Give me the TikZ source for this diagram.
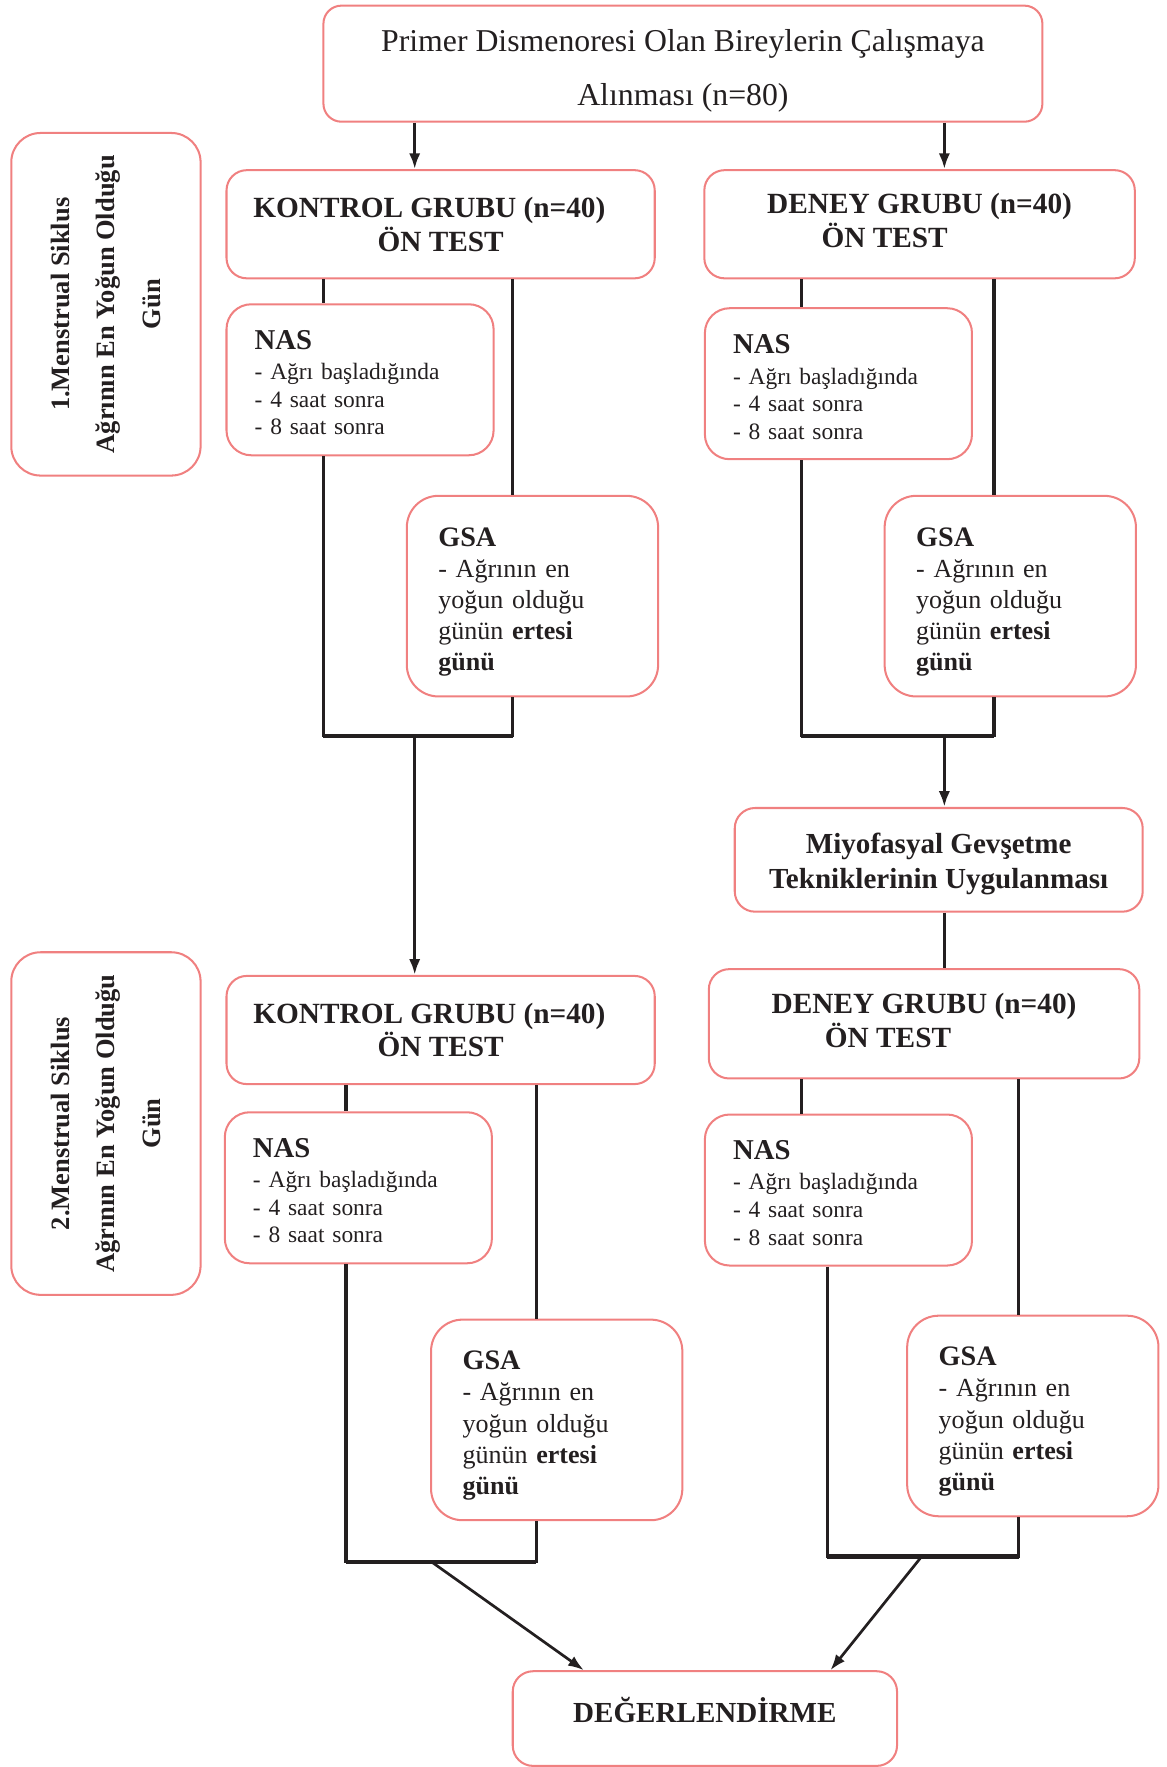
\documentclass[tikz,border=0pt]{standalone}
\usepackage{fontspec}
\setmainfont{Liberation Serif}
\usetikzlibrary{arrows.meta}
\definecolor{boxpink}{RGB}{240,128,128}
\definecolor{ink}{RGB}{35,31,32}
\newcommand{\padtop}[2]{\raisebox{0pt}[\dimexpr\height+#1\relax]{#2}}
\newcommand{\padbot}[2]{\raisebox{0pt}[\height][\dimexpr\depth+#1\relax]{#2}}

\begin{document}
\begin{tikzpicture}[
		x=0.5pt, y=-0.5pt,
		>={Latex[length=7pt,width=5pt]},
		box/.style = {draw=boxpink, line width=0.9pt, rounded corners=9pt, text=ink, inner sep=0pt, align=center},
		title/.style = {box, rounded corners=8pt, font=\fontsize{14.1}{24}\selectfont},
		head/.style = {box, font=\fontsize{13}{15}\selectfont\bfseries},
		side/.style = {box, rounded corners=13pt, font=\fontsize{11.75}{20}\selectfont\bfseries},
		nasbox/.style = {box, rounded corners=11pt, align=left, inner xsep=12.5pt, text width=93.5pt, minimum height=67pt, font=\fontsize{10.4}{12.25}\selectfont},
		gsabox/.style = {box, rounded corners=14pt, align=left, inner xsep=14pt, text width=83.5pt, minimum height=89pt, font=\fontsize{11.55}{13.8}\selectfont},
		link/.style = {draw=ink, line width=1.4pt, line join=miter},
		bar/.style = {draw=ink, line width=2pt},
	]
	\useasboundingbox (0,0) rectangle (1035,1568);

	\node[title, minimum width=319pt, minimum height=51.5pt] (top) at (606,56.5)
		{\padtop{6pt}{Primer Dismenoresi Olan Bireylerin Çalışmaya}\\Alınması (n=80)};

	% 1. siklus
	\node[side, rotate=90, minimum width=152pt, minimum height=84pt] (cyc1) at (94,270)
		{1.Menstrual Siklus\\Ağrının En Yoğun Olduğu\\Gün};
	\node[head, minimum width=190pt, minimum height=48pt] (kon1) at (391,199)
		{KONTROL GRUBU (n=40)\hspace*{10pt}\\ÖN TEST};
	\node[head, minimum width=191pt, minimum height=48pt] (den1) at (816,199)
		{DENEY GRUBU (n=40)\\\padbot{3.5pt}{ÖN TEST\hspace*{31pt}}};
	\node[nasbox] (nas1) at (319.5,337)
		{\padtop{2.5pt}{\fontsize{12.75}{12.25}\selectfont\bfseries NAS}\\[1.3pt]- Ağrı başladığında\\- 4 saat sonra\\- 8 saat sonra};
	\node[nasbox] (nas2) at (744,340.5)
		{\padtop{3pt}{\fontsize{12.75}{12.25}\selectfont\bfseries NAS}\\[1.3pt]- Ağrı başladığında\\- 4 saat sonra\\- 8 saat sonra};
	\node[gsabox] (gsa1) at (472.5,529)
		{\padtop{5pt}{\fontsize{12.5}{13.8}\selectfont\bfseries GSA}\\- Ağrının en\\yoğun olduğu\\günün \textbf{ertesi}\\\textbf{günü}};
	\node[gsabox] (gsa2) at (896.5,529)
		{\padtop{5pt}{\fontsize{12.5}{13.8}\selectfont\bfseries GSA}\\- Ağrının en\\yoğun olduğu\\günün \textbf{ertesi}\\\textbf{günü}};
	\node[head, font=\fontsize{12.9}{15.5}\selectfont\bfseries, minimum width=181pt, minimum height=46pt] (miyo) at (833,763)
		{\padtop{4pt}{Miyofasyal Gevşetme}\\Tekniklerinin Uygulanması};

	% 2. siklus
	\node[side, rotate=90, minimum width=152pt, minimum height=84pt] (cyc2) at (94,997)
		{2.Menstrual Siklus\\Ağrının En Yoğun Olduğu\\Gün};
	\node[head, minimum width=190pt, minimum height=48pt] (kon2) at (391,914)
		{KONTROL GRUBU (n=40)\hspace*{10pt}\\ÖN TEST};
	\node[head, minimum width=191pt, minimum height=48.5pt] (den2) at (820,908.5)
		{DENEY GRUBU (n=40)\\\padbot{3pt}{ÖN TEST\hspace*{32pt}}};
	\node[nasbox] (nas3) at (318,1054)
		{\padtop{2.5pt}{\fontsize{12.75}{12.25}\selectfont\bfseries NAS}\\[1.3pt]- Ağrı başladığında\\- 4 saat sonra\\- 8 saat sonra};
	\node[nasbox] (nas4) at (744,1056)
		{\padtop{2.5pt}{\fontsize{12.75}{12.25}\selectfont\bfseries NAS}\\[1.3pt]- Ağrı başladığında\\- 4 saat sonra\\- 8 saat sonra};
	\node[gsabox] (gsa3) at (494,1260)
		{\padtop{5pt}{\fontsize{12.5}{13.8}\selectfont\bfseries GSA}\\- Ağrının en\\yoğun olduğu\\günün \textbf{ertesi}\\\textbf{günü}};
	\node[gsabox] (gsa4) at (916.5,1256.5)
		{\padtop{5pt}{\fontsize{12.5}{13.8}\selectfont\bfseries GSA}\\- Ağrının en\\yoğun olduğu\\günün \textbf{ertesi}\\\textbf{günü}};
	\node[head, font=\fontsize{12.9}{15.5}\selectfont\bfseries, minimum width=170.5pt, minimum height=42pt] (deg) at (625.5,1525)
		{\padbot{8pt}{DEĞERLENDİRME}};

	% junctions
	\coordinate (k1l) at (287,653);
	\coordinate (k1m) at (368,653);
	\coordinate (k1r) at (455,653);
	\coordinate (d1l) at (711,653);
	\coordinate (d1m) at (838,653);
	\coordinate (d1r) at (882,653);
	\coordinate (k2l) at (307,1386);
	\coordinate (k2m) at (383,1386);
	\coordinate (k2r) at (476,1386);
	\coordinate (d2u) at (711,1381);
	\coordinate (d2l) at (734,1381);
	\coordinate (d2m) at (818,1381);
	\coordinate (d2r) at (904,1381);

	\draw[link,->] (top.south -| k1m) -- (kon1.north -| k1m);
	\draw[link,->] (top.south -| d1m) -- (den1.north -| d1m);

	\draw[link] (kon1.south -| k1l) -- (nas1.north -| k1l);
	\draw[link] (kon1.south -| k1r) -- (gsa1.north -| k1r);
	\draw[link] (nas1.south -| k1l) -- (k1l) -- (k1r) -- (gsa1.south -| k1r);
	\draw[bar] (k1l) -- (k1r);
	\draw[link,->] (k1m) -- (kon2.north -| k1m);

	\draw[link] (den1.south -| d1l) -- (nas2.north -| d1l);
	\draw[link] (den1.south -| d1r) -- (gsa2.north -| d1r);
	\draw[link] (nas2.south -| d1l) -- (d1l) -- (d1r) -- (gsa2.south -| d1r);
	\draw[bar] (d1l) -- (d1r);
	\draw[link,->] (d1m) -- (miyo.north -| d1m);
	\draw[link] (miyo.south -| d1m) -- (den2.north -| d1m);

	\draw[link] (kon2.south -| k2l) -- (nas3.north -| k2l);
	\draw[link] (kon2.south -| k2r) -- (gsa3.north -| k2r);
	\draw[link] (nas3.south -| k2l) -- (k2l) -- (k2r) -- (gsa3.south -| k2r);
	\draw[bar] (k2l) -- (k2r);

	\draw[link] (den2.south -| d2u) -- (nas4.north -| d2u);
	\draw[link] (den2.south -| d2r) -- (gsa4.north -| d2r);
	\draw[link] (nas4.south -| d2l) -- (d2l) -- (d2r) -- (gsa4.south -| d2r);
	\draw[bar] (d2l) -- (d2r);

	\draw[link, line width=1.2pt, ->] (k2m) -- ([xshift=32pt]deg.north west);
	\draw[link, line width=1.2pt, ->] (d2m) -- ([xshift=-30pt]deg.north east);
\end{tikzpicture}
\end{document}
